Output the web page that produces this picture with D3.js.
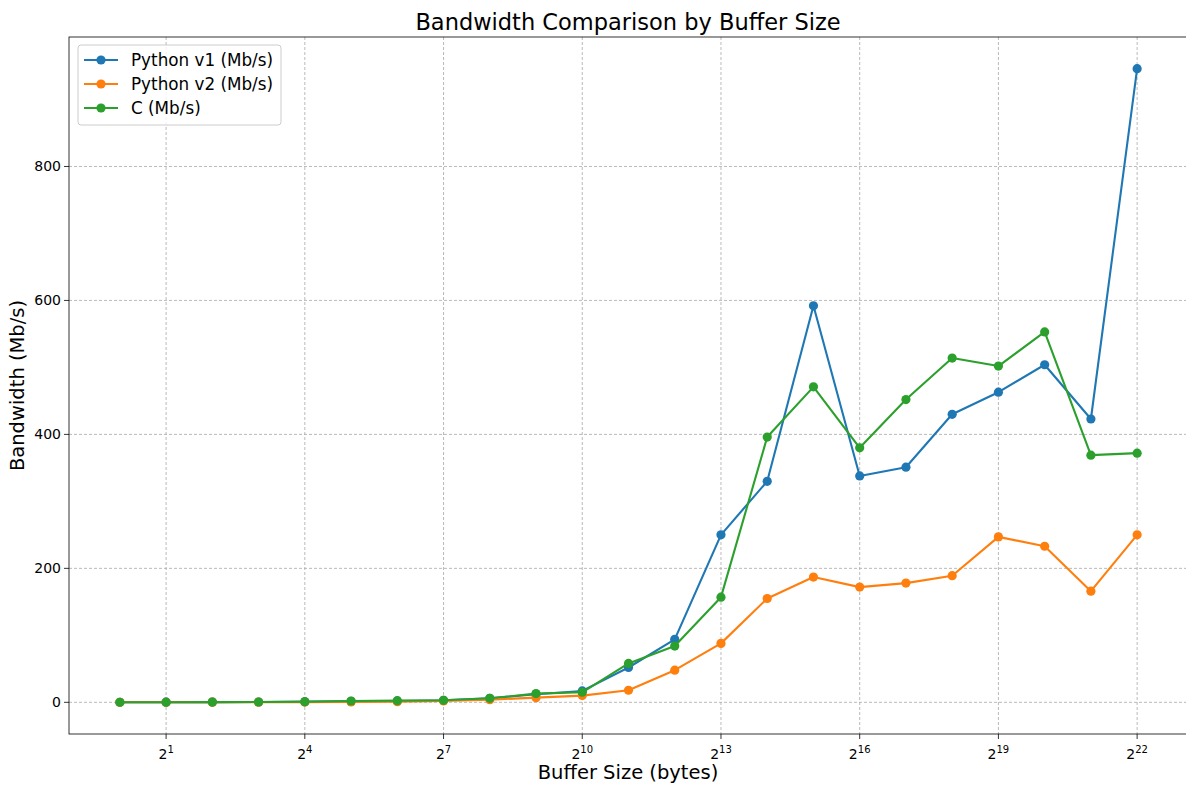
<!DOCTYPE html>
<html>
<head>
<meta charset="utf-8">
<script src="https://cdn.jsdelivr.net/npm/d3@7"></script>
<style>
  body { margin: 0; background: #fff; }
  svg { font-family: "DejaVu Sans", sans-serif; }
</style>
</head>
<body>
<div id="chart"></div>
<script>
// buffer sizes are 2^0 .. 2^22 bytes
const exponents = d3.range(0, 23);
const bufferSizes = exponents.map(e => Math.pow(2, e));

const pythonV1 = [0.1, 0.2, 0.3, 0.5, 0.8, 1.5, 2, 3, 6, 12, 17, 52, 94, 250, 330, 592, 338, 351, 430, 463, 504, 423, 946];
const pythonV2 = [0.05, 0.1, 0.15, 0.2, 0.3, 0.5, 1, 2, 4, 7, 10, 18, 48, 88, 155, 187, 172, 178, 189, 247, 233, 166, 250];
const cLang = [0.1, 0.2, 0.3, 0.5, 1, 2, 2.5, 3, 6, 13, 15, 58, 84, 157, 396, 471, 380, 452, 514, 502, 553, 369, 372];

const xTickExps = [1, 4, 7, 10, 13, 16, 19, 22];
const yTicks = [0, 200, 400, 600, 800];

const series = [
  {name: 'Python v1 (Mb/s)', values: pythonV1, color: '#1f77b4'},
  {name: 'Python v2 (Mb/s)', values: pythonV2, color: '#ff7f0e'},
  {name: 'C (Mb/s)', values: cLang, color: '#2ca02c'}
];

const width = 1186, height = 786;
const margin = {top: 37, right: -2, bottom: 52, left: 69};

const svg = d3.select('#chart').append('svg')
  .attr('width', width)
  .attr('height', height);

const plotW = width - margin.left - margin.right;
const plotH = height - margin.top - margin.bottom;

// matplotlib-like 5% padding around the data
const xPad = 22 * 0.05;
const x = d3.scaleLog().base(2)
  .domain([Math.pow(2, -xPad), Math.pow(2, 22 + xPad)])
  .range([0, plotW]);

const yMax = d3.max(series, s => d3.max(s.values));
const yMin = 0;
const yPad = (yMax - yMin) * 0.05;
const y = d3.scaleLinear()
  .domain([yMin - yPad, yMax + yPad])
  .range([plotH, 0]);

const g = svg.append('g').attr('transform', `translate(${margin.left},${margin.top})`);

// grid
g.append('g').selectAll('line')
  .data(xTickExps)
  .enter().append('line')
  .attr('x1', d => x(Math.pow(2, d))).attr('x2', d => x(Math.pow(2, d)))
  .attr('y1', 0).attr('y2', plotH)
  .attr('stroke', '#a8a8a8').attr('stroke-width', 0.8).attr('stroke-dasharray', '3,2');

g.append('g').selectAll('line')
  .data(yTicks)
  .enter().append('line')
  .attr('x1', 0).attr('x2', plotW)
  .attr('y1', d => y(d)).attr('y2', d => y(d))
  .attr('stroke', '#a8a8a8').attr('stroke-width', 0.8).attr('stroke-dasharray', '3,2');

// x axis
const xAxis = g.append('g').attr('transform', `translate(0,${plotH})`);
xAxis.selectAll('line')
  .data(xTickExps)
  .enter().append('line')
  .attr('x1', d => x(Math.pow(2, d))).attr('x2', d => x(Math.pow(2, d)))
  .attr('y1', 0).attr('y2', 5)
  .attr('stroke', '#000').attr('stroke-width', 0.8);

const xLabels = xAxis.selectAll('text.tick')
  .data(xTickExps)
  .enter().append('text')
  .attr('class', 'tick')
  .attr('x', d => x(Math.pow(2, d)))
  .attr('y', 25)
  .attr('text-anchor', 'middle')
  .attr('font-size', 14)
  .attr('fill', '#000');
xLabels.append('tspan').text('2');
xLabels.append('tspan').attr('dy', -6).attr('font-size', 10).text(d => d);

// y axis
const yAxis = g.append('g');
yAxis.selectAll('line')
  .data(yTicks)
  .enter().append('line')
  .attr('x1', -5).attr('x2', 0)
  .attr('y1', d => y(d)).attr('y2', d => y(d))
  .attr('stroke', '#000').attr('stroke-width', 0.8);
yAxis.selectAll('text')
  .data(yTicks)
  .enter().append('text')
  .attr('x', -8)
  .attr('y', d => y(d))
  .attr('dy', '0.35em')
  .attr('text-anchor', 'end')
  .attr('font-size', 14)
  .text(d => d);

// spines
g.append('rect')
  .attr('x', 0).attr('y', 0).attr('width', plotW).attr('height', plotH)
  .attr('fill', 'none').attr('stroke', '#000').attr('stroke-width', 0.8);

// lines and markers
const line = d3.line()
  .x((d, i) => x(bufferSizes[i]))
  .y(d => y(d));

series.forEach(s => {
  g.append('path')
    .datum(s.values)
    .attr('d', line)
    .attr('fill', 'none')
    .attr('stroke', s.color)
    .attr('stroke-width', 2.1)
    .attr('stroke-linejoin', 'round');
  g.append('g').selectAll('circle')
    .data(s.values)
    .enter().append('circle')
    .attr('cx', (d, i) => x(bufferSizes[i]))
    .attr('cy', d => y(d))
    .attr('r', 4.6)
    .attr('fill', s.color);
});

// titles
svg.append('text')
  .attr('x', 628)
  .attr('y', 30)
  .attr('text-anchor', 'middle')
  .attr('font-size', 22.5)
  .text('Bandwidth Comparison by Buffer Size');

svg.append('text')
  .attr('x', 628)
  .attr('y', 779)
  .attr('text-anchor', 'middle')
  .attr('font-size', 19.5)
  .text('Buffer Size (bytes)');

svg.append('text')
  .attr('transform', `translate(24,${margin.top + plotH / 2}) rotate(-90)`)
  .attr('text-anchor', 'middle')
  .attr('font-size', 19.5)
  .text('Bandwidth (Mb/s)');

// legend
const legend = g.append('g').attr('transform', 'translate(9,8)');
legend.append('rect')
  .attr('width', 203).attr('height', 80)
  .attr('rx', 3)
  .attr('fill', '#fff').attr('fill-opacity', 0.8)
  .attr('stroke', '#cccccc').attr('stroke-width', 1);
series.forEach((s, i) => {
  const row = legend.append('g').attr('transform', `translate(0,${15 + i * 24})`);
  row.append('line')
    .attr('x1', 6).attr('x2', 40)
    .attr('stroke', s.color).attr('stroke-width', 2.1);
  row.append('circle').attr('cx', 23).attr('r', 4.6).attr('fill', s.color);
  row.append('text')
    .attr('x', 53).attr('dy', '0.35em')
    .attr('font-size', 16.8)
    .text(s.name);
});
</script>
</body>
</html>
